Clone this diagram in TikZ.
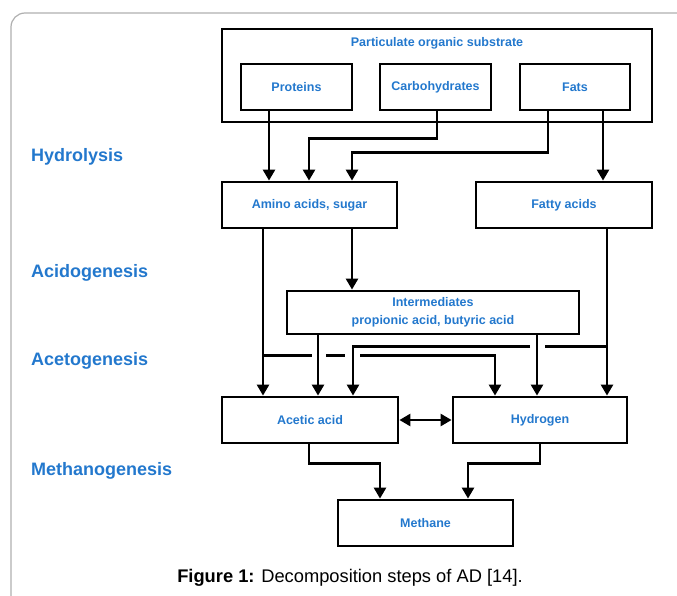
\documentclass[tikz,border=0pt]{standalone}
\usepackage{fontspec}
\setmainfont{Liberation Sans}
\usetikzlibrary{arrows.meta}
\definecolor{txtblue}{RGB}{35,120,205}
\definecolor{framegray}{RGB}{175,175,175}
\begin{document}
\begin{tikzpicture}[x=1pt,y=-1pt,
  boxstyle/.style={draw=black,line width=2.8pt,inner sep=0pt,
    text=txtblue,font=\fontsize{12.5}{18}\selectfont\bfseries,align=center},
  phase/.style={anchor=west,inner sep=0pt,text=txtblue,font=\fontsize{18}{20}\selectfont\bfseries},
  conn/.style={line width=2.5pt,draw=black},
  arr/.style={conn,-{Triangle[width=12pt,length=11pt]}},
  darr/.style={conn,{Triangle[width=12pt,length=11pt]}-{Triangle[width=12pt,length=11pt]}}]
\useasboundingbox (0,0) rectangle (677,596);
% frame
\draw[framegray,line width=1.2pt,rounded corners=14pt] (11,596) -- (11,13) -- (677,13);
% boxes
\node[boxstyle,minimum width=430pt,minimum height=93pt] (subs) at (437,75.5) {};
\node[inner sep=0pt,text=txtblue,font=\fontsize{12.5}{15}\selectfont\bfseries] (substxt) at (437,43) {Particulate organic substrate};
\node[boxstyle,minimum width=111pt,minimum height=46pt] (prot) at (296.5,87) {Proteins};
\node[boxstyle,minimum width=111pt,minimum height=46pt] (carb) at (435.5,87) {Carbohydrates};
\node[boxstyle,minimum width=110pt,minimum height=46pt] (fats) at (575,87) {Fats};
\node[boxstyle,minimum width=175pt,minimum height=46pt] (amino) at (309.5,205) {Amino acids, sugar};
\node[boxstyle,minimum width=176pt,minimum height=46pt] (fatty) at (564,205) {Fatty acids};
\node[boxstyle,minimum width=292pt,minimum height=43pt] (inter) at (433,312.5) {Intermediates\\propionic acid, butyric acid};
\node[boxstyle,minimum width=176pt,minimum height=46pt] (acetic) at (310,420) {Acetic acid};
\node[boxstyle,minimum width=174pt,minimum height=46pt] (hydro) at (540,420) {Hydrogen};
\node[boxstyle,minimum width=175pt,minimum height=46pt] (meth) at (425.5,523) {Methane};
% phase labels
\node[phase] (hyd) at (31,157) {Hydrolysis};
\node[phase] (acido) at (31,273) {Acidogenesis};
\node[phase] (aceto) at (31,361) {Acetogenesis};
\node[phase] (metha) at (31,471) {Methanogenesis};
% caption
\node[inner sep=0pt,font=\fontsize{18.3}{20}\selectfont] (cap) at (350,578) {\textbf{Figure 1:} Decomposition steps of AD [14].};
% connector start points
\coordinate (p1) at ([xshift=-27.5pt]prot.south);
\coordinate (c1) at ([xshift=1.5pt]carb.south);
\coordinate (f1) at ([xshift=-27pt]fats.south);
\coordinate (f2) at ([xshift=28pt]fats.south);
\coordinate (a4) at ([xshift=-46.5pt]amino.south);
\coordinate (a5) at ([xshift=42.5pt]amino.south);
\coordinate (i1) at ([xshift=-115pt]inter.south);
\coordinate (i2) at ([xshift=104pt]inter.south);
\coordinate (t1) at ([xshift=43pt]fatty.south);
\coordinate (e1) at ([xshift=-1pt]acetic.south);
\coordinate (h1) at (hydro.south);
% hydrolysis
\draw[arr] (p1) -- (p1 |- amino.north);
\draw[arr] (c1) -- ++(0,27) -| ([xshift=-0.5pt]amino.north);
\draw[arr] (f1) -- ++(0,41) -| ([xshift=42.5pt]amino.north);
\draw[arr] (f2) -- (f2 |- fatty.north);
% acidogenesis
\draw[arr] (a5) -- (a5 |- inter.north);
% acetogenesis
\draw[arr] (a4) -- (a4 |- acetic.north);
\draw[arr] (i1) -- (i1 |- acetic.north);
\draw[arr] (i2) -- (i2 |- hydro.north);
\draw[arr] (t1) -- (t1 |- hydro.north);
% fatty acids -> acetic acid (broken where crossing)
\path (t1) ++(0,117) coordinate (t2);
\draw[conn] (t2) -- ++(-62,0);
\draw[arr] (t2) ++(-77,0) -| ([xshift=43pt]acetic.north);
% amino acids -> hydrogen (broken where crossing)
\path (a4) ++(0,126) coordinate (a6);
\draw[conn] (a6) -- ++(49,0);
\draw[conn] (a6) ++(63,0) -- ++(19,0);
\draw[arr] (a6) ++(97,0) -| ([xshift=-45pt]hydro.north);
% acetic <-> hydrogen
\draw[darr] (acetic.east) -- (hydro.west);
% methanogenesis
\draw[arr] (e1) -- ++(0,19) -| ([xshift=-45.5pt]meth.north);
\draw[arr] (h1) -- ++(0,19) -| ([xshift=42.5pt]meth.north);
\end{tikzpicture}
\end{document}
